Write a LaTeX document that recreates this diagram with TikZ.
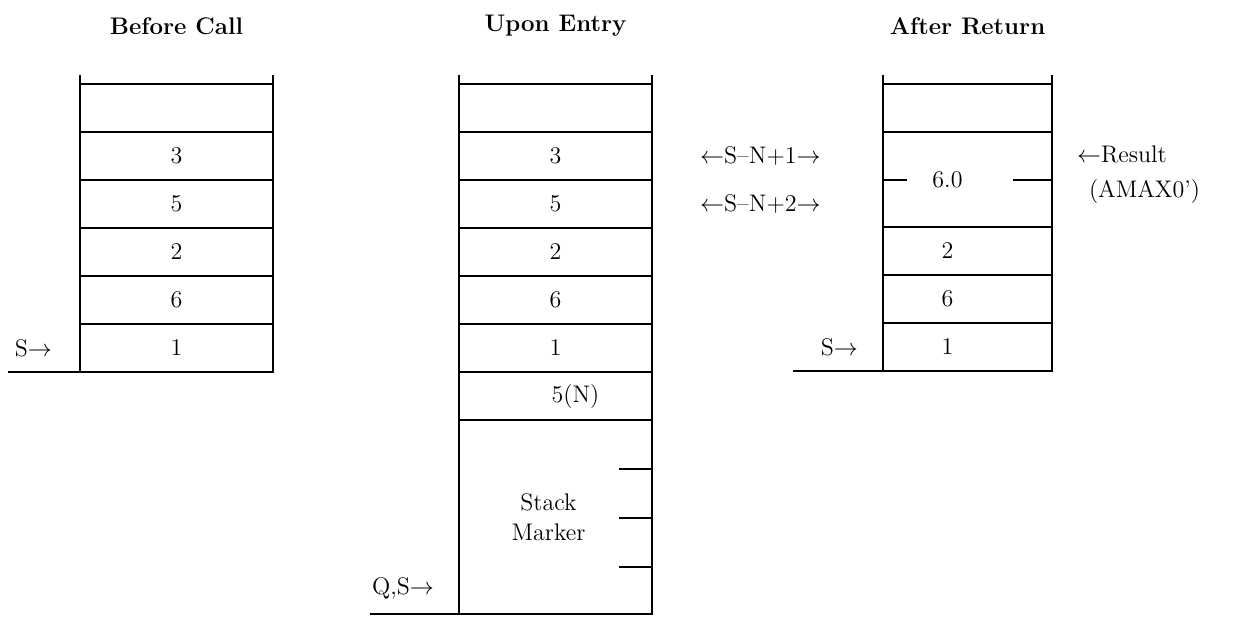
\documentclass[tikz,border=0pt]{standalone}
\usetikzlibrary{matrix, positioning}

\tikzset{
	cell/.style={draw, line width=1pt, inner sep=0pt, outer sep=0pt,
		minimum height=24pt, anchor=center},
	stack/.style={matrix of nodes, nodes in empty cells, row sep=-1pt,
		inner sep=0pt, outer sep=0pt, anchor=north west, nodes={cell}},
	heading/.style={font=\stackfont\bfseries},
	rule/.style={line width=1pt},
}
\newcommand{\stackfont}{\fontsize{12pt}{15pt}\selectfont}

\begin{document}
\begin{tikzpicture}[font=\stackfont]
		\useasboundingbox (0,0) rectangle (623pt,-309pt);
		\matrix [stack,
		column 1/.style={nodes={minimum width=96.5pt}}
		]
		(before) at (39.5pt,-41.5pt)
		{    \\ 3 \\ 5 \\ 2 \\ 6 \\ 1 \\
		};
		\matrix [stack,
		column 1/.style={nodes={minimum width=96.5pt}},
		row 8/.style={nodes={minimum height=97pt}}
		]
		(entry) at (229pt,-41.5pt)
		{    \\ 3 \\ 5 \\ 2 \\ 6 \\ 1 \\ \hspace*{20pt}5(N) \\ \\
		};
		\matrix [stack,
		column 1/.style={nodes={minimum width=84.5pt,
				execute at end node={\hspace*{20pt}}}},
		row 2/.style={nodes={minimum height=47.5pt}}
		]
		(after) at (441pt,-41.5pt)
		{    \\ 6.0 \\ 2 \\ 6 \\ 1 \\
		};
		\node (hbefore) [heading] at ([yshift=28.5pt]before.north) {Before Call};
		\node (hentry) [heading] at ([yshift=28.5pt]entry.north) {Upon Entry};
		\node (hafter) [heading] at ([yshift=28.5pt]after.north) {After Return};
		\foreach \s in {before, entry, after} {
			\draw [rule] (\s-1-1.north west) -- ++(0,4.5pt);
			\draw [rule] (\s-1-1.north east) -- ++(0,4.5pt);
		}
		\draw [rule] (before-6-1.south west) -- ++(-36pt,0);
		\draw [rule] (entry-8-1.south west) -- ++(-44.5pt,0);
		\draw [rule] (after-5-1.south west) -- ++(-45pt,0);
		\node (sbefore) [left=10.5pt of before-6-1] {S$\rightarrow$};
		\node (qs) [left=9pt of entry-8-1.south west, yshift=13pt] {Q,S$\rightarrow$};
		\node (safter) [left=9pt of after-5-1] {S$\rightarrow$};
		% stack marker block
		\node (marker) [align=center] at ([xshift=-3.5pt]entry-8-1.center) {Stack\\Marker};
		\foreach \k in {1,2,3}
			\draw [rule] ([yshift=-\k*24.5pt]entry-8-1.north east) -- ++(-16.5pt,0);
		\node (slot1) [right=20.5pt of entry-2-1] {$\leftarrow$S--N+1$\rightarrow$};
		\node (slot2) [right=20.5pt of entry-3-1] {$\leftarrow$S--N+2$\rightarrow$};
		\draw [rule] (after-2-1.west) -- ++(12pt,0);
		\draw [rule] (after-2-1.east) -- ++(-19.5pt,0);
		\node (result) [right=9pt of after-2-1, yshift=2.5pt, align=left]
		{$\leftarrow$Result\\[2.5pt]\hspace*{6pt}(AMAX0')};
	\end{tikzpicture}
\end{document}
